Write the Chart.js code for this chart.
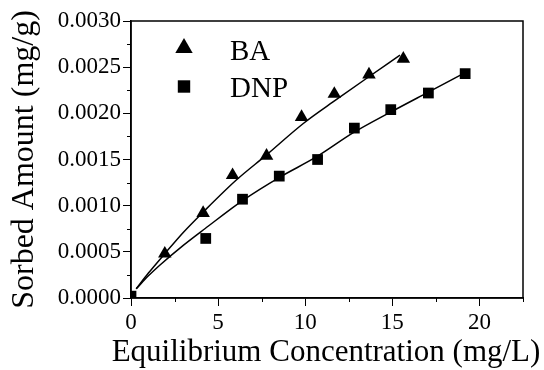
<!DOCTYPE html>
<html>
<head>
<meta charset="utf-8">
<script src="https://cdn.jsdelivr.net/npm/chart.js@4.4.0/dist/chart.umd.min.js"></script>
<style>
  html, body { margin: 0; padding: 0; background: #fff; }
</style>
</head>
<body>
<canvas id="myChart" width="544" height="370"></canvas>
<script>
// measured points
const baC = [1.94, 4.14, 5.83, 7.78, 9.79, 11.67, 13.66, 15.63];
const baQ = [0.00048, 0.00092, 0.00133, 0.00154, 0.00196, 0.00221, 0.00242, 0.00259];
const dnpC = [0.0, 4.29, 6.40, 8.51, 10.71, 12.82, 14.91, 17.07, 19.18];
const dnpQ = [0.00002, 0.000645, 0.00107, 0.00132, 0.00150, 0.00184, 0.00204, 0.00222, 0.00243];

// fitted curves
const baFitC = [0.3, 1.0, 1.94, 3.0, 4.14, 6.06, 7.78, 9.89, 11.8, 13.53, 15.44];
const baFitQ = [0.0001, 0.00027, 0.00048, 0.00071, 0.00093, 0.00128, 0.00155, 0.00189, 0.00215, 0.00238, 0.00263];
const dnpFitC = [0.3, 1.0, 1.65, 3.0, 4.24, 6.44, 8.55, 10.66, 12.76, 14.87, 17.07, 19.18];
const dnpFitQ = [0.0001, 0.00024, 0.000355, 0.00057, 0.00075, 0.00106, 0.00131, 0.00153, 0.00179, 0.00201, 0.00223, 0.00244];

const seriesNames = ["BA", "DNP"];
const xTitle = "Equilibrium Concentration (mg/L)";
const yTitle = "Sorbed Amount (mg/g)";
const xMax = 22.5;
const yMax = 0.003;

const serif = "'Liberation Serif', 'Times New Roman', serif";
const pts = (xs, ys) => xs.map((x, i) => ({ x: x, y: ys[i] }));

// box, minor ticks, x title (wider than the plot) and the legend inside the plot
const extras = {
  id: "extras",
  afterDraw(chart) {
    const { ctx, chartArea: a, scales } = chart;
    ctx.save();
    ctx.strokeStyle = "#000";
    ctx.lineWidth = 1.5;
    ctx.strokeRect(a.left, a.top, a.right - a.left, a.bottom - a.top);

    ctx.lineWidth = 1;
    ctx.beginPath();
    for (let v = 2.5; v <= xMax + 1e-9; v += 5) {
      const px = Math.round(scales.x.getPixelForValue(v)) + 0.5;
      ctx.moveTo(px, a.bottom);
      ctx.lineTo(px, a.bottom + 4);
    }
    for (let v = 0.00025; v < yMax; v += 0.0005) {
      const py = Math.round(scales.y.getPixelForValue(v)) + 0.5;
      ctx.moveTo(a.left, py);
      ctx.lineTo(a.left - 4, py);
    }
    ctx.stroke();

    ctx.fillStyle = "#000";
    ctx.font = "31px " + serif;
    ctx.textAlign = "center";
    ctx.textBaseline = "alphabetic";
    ctx.fillText(xTitle, (a.left + a.right) / 2 - 1, a.bottom + 62.5);

    // legend
    const mx = a.left + 53;
    let cy = a.top + 27;
    ctx.beginPath();
    ctx.moveTo(mx, cy - 10);
    ctx.lineTo(mx + 8.7, cy + 5);
    ctx.lineTo(mx - 8.7, cy + 5);
    ctx.closePath();
    ctx.fill();
    cy = a.top + 65.5;
    ctx.fillRect(mx - 6.2, cy - 6.2, 12.4, 12.4);

    ctx.font = "29px " + serif;
    ctx.textAlign = "left";
    ctx.fillText(seriesNames[0], a.left + 99, a.top + 39);
    ctx.fillText(seriesNames[1], a.left + 99, a.top + 75.5);
    ctx.restore();
  }
};

new Chart("myChart", {
  type: "scatter",
  data: {
    datasets: [
      {
        label: seriesNames[0],
        data: pts(baC, baQ),
        pointStyle: "triangle",
        pointRadius: 7.8,
        backgroundColor: "#000",
        borderWidth: 0,
      },
      {
        label: seriesNames[1],
        data: pts(dnpC, dnpQ),
        pointStyle: "rect",
        pointRadius: 7.6,
        backgroundColor: "#000",
        borderWidth: 0,
      },
      {
        label: seriesNames[0] + " fit",
        data: pts(baFitC, baFitQ),
        showLine: true,
        borderColor: "#000",
        borderWidth: 1.5,
        pointRadius: 0,
        cubicInterpolationMode: "monotone",
      },
      {
        label: seriesNames[1] + " fit",
        data: pts(dnpFitC, dnpFitQ),
        showLine: true,
        borderColor: "#000",
        borderWidth: 1.5,
        pointRadius: 0,
        cubicInterpolationMode: "monotone",
      },
    ],
  },
  options: {
    responsive: false,
    animation: false,
    events: [],
    layout: { padding: { top: 21, right: 21, left: 0, bottom: 0 } },
    plugins: {
      legend: { display: false },
      tooltip: { enabled: false },
    },
    scales: {
      x: {
        type: "linear",
        min: 0,
        max: xMax,
        border: { color: "#000", width: 1.5 },
        grid: { drawOnChartArea: false, tickLength: 8, color: "#000" },
        ticks: {
          stepSize: 5,
          includeBounds: false,
          maxRotation: 0,
          padding: 3,
          color: "#000",
          font: { family: serif, size: 23 },
        },
        afterFit(s) { s.height = 72; },
      },
      y: {
        min: 0,
        max: yMax,
        border: { color: "#000", width: 1.5 },
        grid: { drawOnChartArea: false, tickLength: 8, color: "#000" },
        ticks: {
          stepSize: 0.0005,
          padding: 2,
          color: "#000",
          font: { family: serif, size: 23 },
          callback: (v) => v.toFixed(4),
        },
        title: {
          display: true,
          text: yTitle,
          color: "#000",
          font: { family: serif, size: 32, lineHeight: 1 },
          padding: { top: 9, bottom: 0 },
        },
        afterFit(s) { s.width = 131; },
      },
    },
  },
  plugins: [extras],
});
</script>
</body>
</html>
